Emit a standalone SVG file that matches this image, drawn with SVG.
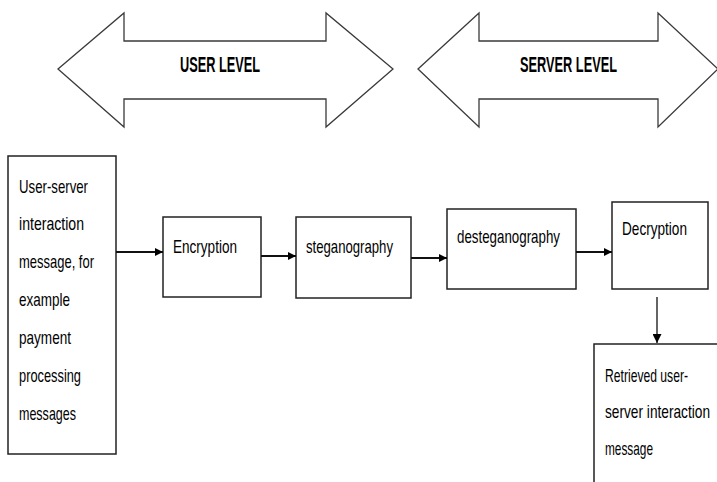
<svg xmlns="http://www.w3.org/2000/svg" width="717" height="482" viewBox="0 0 717 482">
<style>
.big{fill:#fff;stroke:#3a3a3a;stroke-width:1.3;stroke-linejoin:miter}
.box{fill:#fff;stroke:#222;stroke-width:1.5}
.t{font-family:"Liberation Sans",Arial,sans-serif;font-size:19px;fill:#000}
.b{font-family:"Liberation Sans",Arial,sans-serif;font-size:22px;font-weight:bold;fill:#000}
.c{stroke:#111;stroke-width:2;fill:none}
.c2{stroke:#111;stroke-width:1.3;fill:none}
</style>
<defs>
<marker id="ah" viewBox="0 0 10 10" refX="10" refY="5" markerWidth="8" markerHeight="8" markerUnits="userSpaceOnUse" orient="auto">
<path d="M0,0 L10,5 L0,10 Z" fill="#000"/>
</marker>
<marker id="ah2" viewBox="0 0 10 10" refX="10" refY="5" markerWidth="9" markerHeight="9" markerUnits="userSpaceOnUse" orient="auto">
<path d="M0,0 L10,5 L0,10 Z" fill="#000"/>
</marker>
</defs>
<g id="user-level">
<path class="big" d="M58,69 L124,13 L124,41 L326,41 L326,13 L393,69 L326,127 L326,99 L124,99 L124,127 Z"/>
<text class="b" x="180" y="72" textLength="80" lengthAdjust="spacingAndGlyphs">USER LEVEL</text>
</g>
<g id="server-level">
<path class="big" d="M418,69 L479,13 L479,41 L658,41 L658,13 L718,69 L658,127 L658,99 L479,99 L479,127 Z"/>
<text class="b" x="520" y="72" textLength="97" lengthAdjust="spacingAndGlyphs">SERVER LEVEL</text>
</g>
<g id="input-message">
<rect class="box" x="8" y="156" width="108" height="298"/>
<text class="t" x="19" y="193" textLength="69" lengthAdjust="spacingAndGlyphs">User-server</text>
<text class="t" x="19" y="230" textLength="65" lengthAdjust="spacingAndGlyphs">interaction</text>
<text class="t" x="19" y="268" textLength="75" lengthAdjust="spacingAndGlyphs">message, for</text>
<text class="t" x="19" y="306" textLength="51" lengthAdjust="spacingAndGlyphs">example</text>
<text class="t" x="19" y="344" textLength="52" lengthAdjust="spacingAndGlyphs">payment</text>
<text class="t" x="19" y="382" textLength="62" lengthAdjust="spacingAndGlyphs">processing</text>
<text class="t" x="19" y="420" textLength="57" lengthAdjust="spacingAndGlyphs">messages</text>
</g>
<g id="encryption">
<rect class="box" x="163" y="217" width="98" height="80"/>
<text class="t" x="173" y="253" textLength="64" lengthAdjust="spacingAndGlyphs">Encryption</text>
</g>
<g id="steganography">
<rect class="box" x="296" y="217" width="115" height="81"/>
<text class="t" x="306" y="253" textLength="87" lengthAdjust="spacingAndGlyphs">steganography</text>
</g>
<g id="desteganography">
<rect class="box" x="447" y="209" width="129" height="80"/>
<text class="t" x="457" y="243" textLength="103" lengthAdjust="spacingAndGlyphs">desteganography</text>
</g>
<g id="decryption">
<rect class="box" x="612" y="202" width="96" height="87"/>
<text class="t" x="622" y="235" textLength="65" lengthAdjust="spacingAndGlyphs">Decryption</text>
</g>
<g id="retrieved-message">
<rect class="box" x="594" y="344" width="130" height="150"/>
<text class="t" x="605" y="382" textLength="83" lengthAdjust="spacingAndGlyphs">Retrieved user-</text>
<text class="t" x="605" y="418" textLength="105" lengthAdjust="spacingAndGlyphs">server interaction</text>
<text class="t" x="605" y="455" textLength="48" lengthAdjust="spacingAndGlyphs">message</text>
</g>
<g id="connectors">
<line class="c" x1="116" y1="252" x2="163" y2="252" marker-end="url(#ah)"/>
<line class="c" x1="261" y1="256" x2="296" y2="256" marker-end="url(#ah)"/>
<line class="c" x1="411" y1="258" x2="447" y2="258" marker-end="url(#ah)"/>
<line class="c" x1="576" y1="252" x2="612" y2="252" marker-end="url(#ah)"/>
<line class="c2" x1="657" y1="297" x2="657" y2="343" marker-end="url(#ah2)"/>
</g>
</svg>
